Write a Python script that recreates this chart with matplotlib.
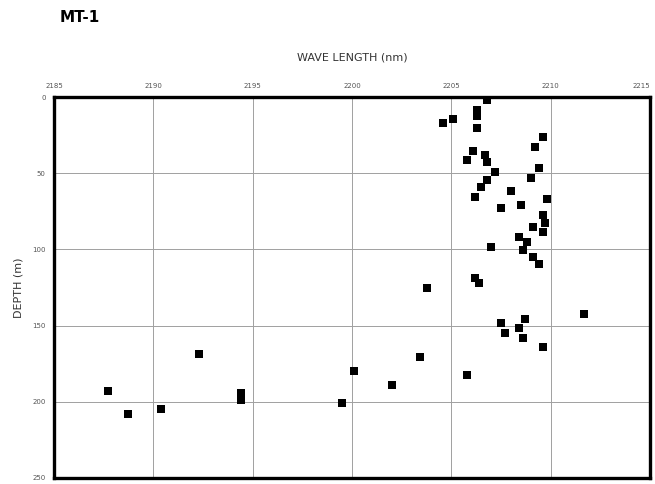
import matplotlib
matplotlib.use("Agg")
import matplotlib.pyplot as plt

wavelength = [2206.8, 2206.3, 2206.3, 2206.3, 2205.1, 2204.6, 2209.6, 2209.2,
              2206.1, 2205.8, 2206.7, 2206.8, 2207.2, 2206.8, 2206.5, 2206.2,
              2209.4, 2209.0, 2208.0, 2209.8, 2208.5, 2207.5, 2209.6, 2209.7,
              2209.1, 2209.6, 2208.4, 2208.8, 2208.6, 2209.1, 2209.4, 2207.0,
              2206.2, 2206.4, 2203.8, 2211.7, 2207.5, 2207.7, 2208.7, 2208.4,
              2208.6, 2209.6, 2203.4, 2205.8, 2187.7, 2188.7, 2190.4, 2192.3,
              2194.4, 2194.4, 2200.1, 2199.5, 2202.0]
depth = [2.0, 8.5, 12.5, 20.3, 14.4, 17.1, 26.2, 32.8,
         35.4, 41.3, 38.1, 42.7, 49.2, 54.5, 59.1, 65.6,
         46.6, 53.1, 61.7, 66.9, 70.9, 72.8, 77.4, 82.7,
         85.3, 88.6, 91.9, 95.1, 100.4, 105.0, 109.6, 98.4,
         118.8, 122.0, 125.3, 142.4, 148.3, 154.9, 145.7, 151.6,
         158.1, 164.0, 170.6, 182.4, 192.9, 208.0, 204.7, 168.6,
         194.2, 198.8, 179.8, 200.8, 189.0]

x_ticks = [2185, 2190, 2195, 2200, 2205, 2210, 2215]
y_ticks = [0, 50, 100, 150, 200, 250]

fig = plt.figure(figsize=(6.55, 4.84), dpi=100)
ax = fig.add_axes([54/655, 6/484, 596/655, 381/484])
ax.scatter(wavelength, depth, marker='s', s=36, color='black', zorder=3, linewidths=0)
ax.set_xlim(2185, 2215)
ax.set_ylim(250, 0)
ax.set_xticks(x_ticks)
ax.set_yticks(y_ticks)
ax.xaxis.tick_top()
ax.xaxis.set_label_position('top')
ax.tick_params(axis='both', length=0, labelsize=5, colors='#555555', pad=6)
labels = ax.get_xticklabels()
labels[-1].set_horizontalalignment('right')
ax.grid(True, color='#a0a0a0', linewidth=0.7)
for s in ax.spines.values():
    s.set_linewidth(2.4)
    s.set_color('black')
ax.set_xlabel('WAVE LENGTH (nm)', fontsize=8, color='#333333', labelpad=16)
ax.set_ylabel('DEPTH (m)', fontsize=8, color='#333333', labelpad=6)
fig.text(60/655, 1 - 17/484, 'MT-1', fontsize=11, fontweight='bold', va='center', ha='left')
fig.savefig('out.png', dpi=100)
